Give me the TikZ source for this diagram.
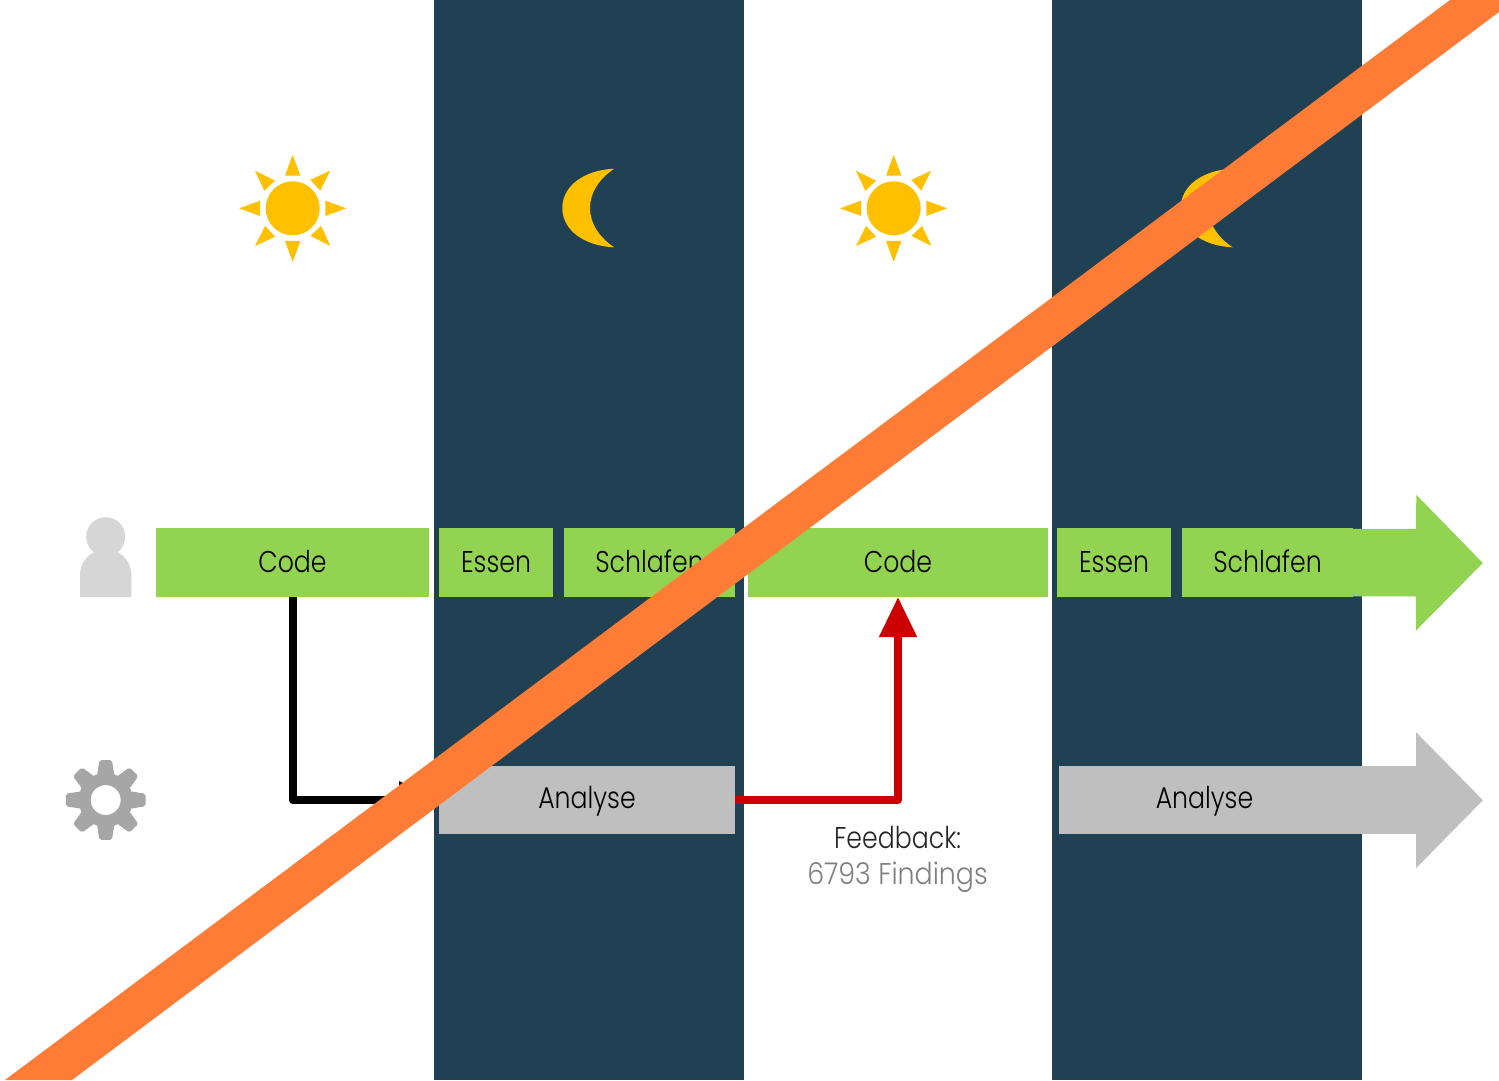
\documentclass[tikz,border=0pt]{standalone}
\usepackage{fontspec}
\setmainfont[FakeStretch=0.84]{Poppins Light}
\newfontfamily\widerlabel[FakeStretch=0.895]{Poppins Light}
\usetikzlibrary{arrows.meta}
\definecolor{night}{HTML}{1F4153}
\definecolor{leaf}{HTML}{92D351}
\definecolor{ash}{HTML}{BFBFBF}
\definecolor{flame}{HTML}{FF7C36}
\definecolor{gold}{HTML}{FFC000}
\definecolor{alarm}{HTML}{CC0000}
\definecolor{personc}{HTML}{D6D6D6}
\definecolor{gearc}{HTML}{A6A6A6}
\tikzset{
  label font/.style={font=\fontsize{30}{34}\selectfont},
  barbox/.style={inner sep=0pt,outer sep=0pt,minimum height=69pt,text=black,label font},
  greenbox/.style={barbox,fill=leaf,text height=26pt,text depth=7pt},
  graybox/.style={barbox,fill=ash,minimum height=68.5pt,text height=25pt,text depth=8pt},
  bigarrow/.style={line width=67.5pt},
  link/.style={line width=8pt,line join=round},
  pics/sun/.style={code={
    \fill[gold] (0,0) circle[radius=27];
    \foreach \a in {0,90,180,270}{
      \fill[gold,rotate=\a] (-7.7,-32.6) -- (0,-53.5) -- (7.7,-32.6) -- cycle;}
    \foreach \a in {0,90,180,270}{
      \fill[gold,rotate=\a] (-37.7,-37.6) -- (-17.7,-27.6) -- (-28.4,-17.6) -- cycle;}
  }},
  pics/moon/.style={code={
    \fill[gold] (614.3,168.7) .. controls (584,170) and (562.3,186) .. (562.3,208)
      .. controls (562.3,230) and (584,246) .. (614.3,247.3)
      .. controls (600,238) and (590,224) .. (590,208)
      .. controls (590,192) and (600,178) .. (614.3,168.7) -- cycle;
  }}
}
\begin{document}
\begin{tikzpicture}[x=1pt,y=-1pt]
\useasboundingbox (0,0) rectangle (1499,1080);
\fill[white] (0,0) rectangle (1499,1080);
\fill[night] (434,0) rectangle (744,1080);
\fill[night] (1052,0) rectangle (1362,1080);
% day and night symbols
\pic at (292.7,208.3) {sun};
\pic at (893.7,208.3) {sun};
\pic at (0,0) {moon};
\pic at (618.4,0) {moon};
% person
\fill[personc] (105.7,536.7) circle[radius=19.5];
\fill[personc] (80,597) -- (80,575) arc[start angle=180,end angle=360,radius=25.7] -- (131.4,597) -- cycle;
% gear
\fill[gearc,even odd rule] (105.7,800) circle[radius=27] (105.7,800) circle[radius=15];
\foreach \a in {0,45,...,315}{
  \begin{scope}[shift={(105.7,800)},rotate=\a]
  \filldraw[gearc,line width=4.5pt,line join=round] (-6.5,-24) -- (-4.3,-37.7) -- (4.3,-37.7) -- (6.5,-24) -- cycle;
  \end{scope}}
% coordinates for arrow tips
\coordinate (greentip) at (1483,563);
\coordinate (graytip) at (1483,800.2);
% boxes
\node[greenbox,minimum width=273pt] (code1) at (292.5,562.5) {Code};
\node[greenbox,minimum width=114pt] (essen1) at (496,562.5) {Essen};
\node[greenbox,minimum width=171pt] (schlafen1) at (649.5,562.5) {Schlafen};
\node[greenbox,minimum width=300pt] (code2) at (898,562.5) {Code};
\node[greenbox,minimum width=114pt] (essen2) at (1114,562.5) {Essen};
\node[greenbox,minimum width=171pt] (schlafen2) at (1267.5,562.5) {Schlafen};
\draw[leaf,bigarrow,-{Triangle[length=67pt,width=132pt]}] (schlafen2.east) -- (greentip);
\node[graybox,minimum width=296pt] (analyse1) at (587,800.2) {Analyse};
\node[graybox,minimum width=291pt] (analyse2) at (1204.5,800.2) {Analyse};
\draw[ash,bigarrow,-{Triangle[length=67pt,width=132pt]}] (analyse2.east) -- (graytip);
% connectors
\draw[link,black,-{Triangle[length=40pt,width=36pt]}] (code1.south) |- (analyse1.west);
\draw[link,alarm,-{Triangle[length=40pt,width=36pt]}] (analyse1.east) -| (code2.south);
% feedback label
\node[anchor=base,inner sep=0pt,label font,text=black!85] (fb1) at (897.5,848) {Feedback:};
\node[anchor=base,inner sep=0pt,label font,text=black!50] (fb2) at (897.5,884) {\widerlabel 6793 Findings};
% strike-through
\fill[flame] (1450,0) -- (1499,0) -- (1499,12) -- (72,1080) -- (5,1080) -- cycle;
\end{tikzpicture}
\end{document}
